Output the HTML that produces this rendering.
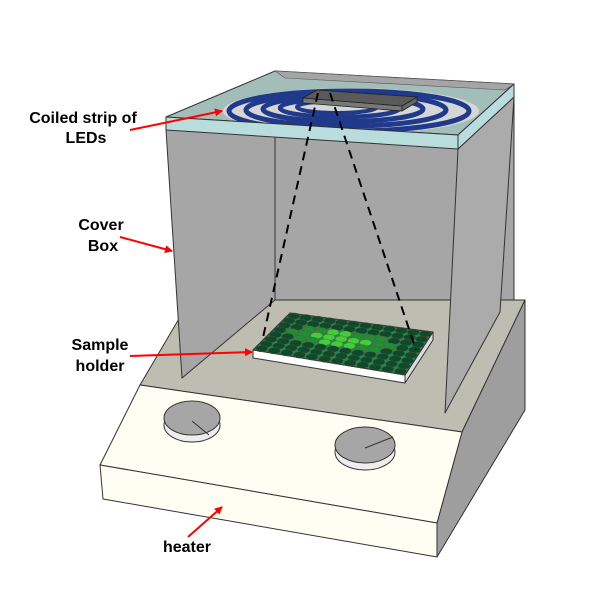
<!DOCTYPE html>
<html><head><style>
body{margin:0;background:#fff}
svg{display:block}
text{font-family:"Liberation Sans",Arial,sans-serif;font-weight:bold;font-size:16px;fill:#000}
</style></head><body>
<svg id="s" width="600" height="600" viewBox="0 0 600 600" stroke-linejoin="round">
<defs>
<marker id="ah" markerWidth="8" markerHeight="8" refX="7" refY="4" orient="auto" markerUnits="userSpaceOnUse">
<path d="M0,0 L8,4 L0,8 z" fill="#f00"/></marker>
</defs>
<polygon points="275,84 514,97 514,310 275,300" fill="#a6a6a6" stroke="#333" stroke-width="1"/>
<polygon points="190,300 525,300 462,432 140,385" fill="#bdbdb1" stroke="#333" stroke-width="1"/>
<polygon points="525,300 525,410 437,557 437,523 462,432" fill="#9e9e9e" stroke="#333" stroke-width="1"/>
<polygon points="140,385 462,432 437,523 100,465" fill="#fefef2" stroke="#333" stroke-width="1"/>
<polygon points="100,465 437,523 437,557 103,499" fill="#fefef2" stroke="#333" stroke-width="1"/>
<ellipse cx="192" cy="425" rx="28" ry="17" fill="#eee" stroke="#333"/>
<ellipse cx="192" cy="418" rx="28" ry="17" fill="#a6a6a6" stroke="#333"/>
<line x1="192" y1="421" x2="209" y2="435" stroke="#333"/>
<ellipse cx="365" cy="452" rx="30" ry="18" fill="#eee" stroke="#333"/>
<ellipse cx="365" cy="445" rx="30" ry="18" fill="#a6a6a6" stroke="#333"/>
<line x1="365" y1="448" x2="393" y2="437" stroke="#333"/>
<polygon points="253,350 405,375 405,383 253,358" fill="#fff" stroke="#333"/>
<polygon points="405,375 433,332 433,340 405,383" fill="#ddd" stroke="#333"/>
<polygon points="290,313 433,332 405,375 253,350" fill="#178a5c" stroke="#333"/>
<g id="holes"></g>
<polygon points="166,130 275,84 275,300 182,378" fill="#a6a6a6" stroke="#333"/>
<polygon points="458,149 514,97 500,312 445,413" fill="#ababab" stroke="#333"/>
<polygon points="166,117 275,71 514,84 458,135" fill="#a3bdb9" stroke="#333"/>
<polygon points="275,71 514,84 505,90 285,78" fill="#a5a5a5" stroke="#555" stroke-width="0.6"/>
<g fill="none">
<ellipse cx="351" cy="111" rx="128" ry="23" fill="#d6d6d6"/>
<ellipse cx="349" cy="111" rx="120" ry="20" stroke="#1f3a8a" stroke-width="5"/>
<ellipse cx="346" cy="110" rx="100" ry="16" stroke="#1f3a8a" stroke-width="5"/>
<ellipse cx="343" cy="109" rx="80" ry="12.5" stroke="#1f3a8a" stroke-width="5"/>
<ellipse cx="340" cy="108" rx="60" ry="9" stroke="#1f3a8a" stroke-width="4.5"/>
<ellipse cx="337" cy="107" rx="40" ry="6" stroke="#1f3a8a" stroke-width="4"/>
</g>
<polygon points="166,117 458,135 458,149 166,130" fill="#b9dcdc" stroke="#333"/>
<polygon points="458,135 514,84 514,97 458,149" fill="#b9dcdc" stroke="#333"/>
<polygon points="303,98 402,106 402,111 303,103" fill="#777" stroke="#222" stroke-width="0.8"/>
<polygon points="402,106 417,97 417,102 402,111" fill="#666" stroke="#222" stroke-width="0.8"/>
<polygon points="303,98 317,90 417,97 402,106" fill="#5a5a5a" stroke="#222" stroke-width="0.8"/>
<line x1="318" y1="93" x2="262" y2="342" stroke="#000" stroke-width="2" stroke-dasharray="9,6"/>
<line x1="330" y1="93" x2="416" y2="350" stroke="#000" stroke-width="2" stroke-dasharray="9,6"/>
<text x="83" y="123" text-anchor="middle">Coiled strip of</text>
<text x="86" y="143" text-anchor="middle">LEDs</text>
<line x1="130" y1="130" x2="222" y2="111" stroke="#f00" stroke-width="2" marker-end="url(#ah)"/>
<text x="101" y="230" text-anchor="middle">Cover</text>
<text x="103" y="251" text-anchor="middle">Box</text>
<line x1="120" y1="237" x2="172" y2="251" stroke="#f00" stroke-width="2" marker-end="url(#ah)"/>
<text x="100" y="350" text-anchor="middle">Sample</text>
<text x="100" y="371" text-anchor="middle">holder</text>
<line x1="130" y1="356" x2="252" y2="352" stroke="#f00" stroke-width="2" marker-end="url(#ah)"/>
<text x="187" y="552" text-anchor="middle">heater</text>
<line x1="188" y1="537" x2="222" y2="507" stroke="#f00" stroke-width="2" marker-end="url(#ah)"/>
</svg>
<script>
var g=document.getElementById('holes');
var A=[290,313],B=[433,332],C=[405,375],D=[253,350];
var cols=12,rows=8,h='';
for(var r=0;r<rows;r++)for(var c=0;c<cols;c++){
var u=(c+0.5)/cols,v=(r+0.5)/rows;
var x=(1-u)*(1-v)*A[0]+u*(1-v)*B[0]+u*v*C[0]+(1-u)*v*D[0];
var y=(1-u)*(1-v)*A[1]+u*(1-v)*B[1]+u*v*C[1]+(1-u)*v*D[1];
var d=Math.hypot(u-0.45,(v-0.45)*1.5);var col=d<0.22?'#3fcf3a':(d<0.35?'#1f8f35':'#0b4a2c');
h+='<ellipse cx="'+x.toFixed(1)+'" cy="'+y.toFixed(1)+'" rx="6" ry="3.2" fill="'+col+'" stroke="#7a4a20" stroke-width="0.4"/>';}
g.innerHTML=h;
</script>
</body></html>
